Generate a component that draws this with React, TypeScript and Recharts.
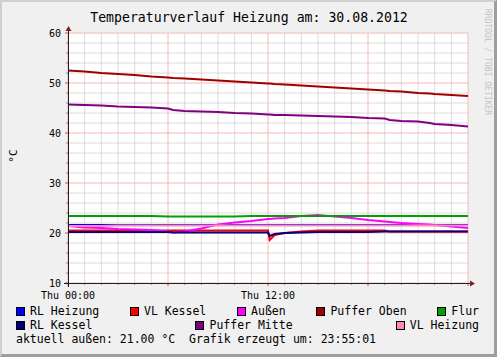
import React from 'react';
import { LineChart, Line, XAxis, YAxis, ReferenceLine } from 'recharts';

// time axis (hours of the day)
const hours = [0, 1, 2, 3, 4, 5, 6, 6.3, 7, 8, 9, 10, 11, 12, 12.1, 12.4, 13, 14, 15, 16, 17, 18, 19, 19.3, 20, 21, 21.7, 22, 23, 24];

const rlHeizung = [21.6, 21.6, 21.6, 21.6, 21.6, 21.6, 21.6, 21.6, 21.6, 21.6, 21.6, 21.6, 21.6, 21.6, 21.6, 21.6, 21.6, 21.6, 21.6, 21.6, 21.6, 21.6, 21.6, 21.6, 21.6, 21.6, 21.6, 21.6, 21.6, 21.6];
const vlKessel = [20.5, 20.5, 20.5, 20.5, 20.5, 20.5, 20.5, 20.5, 20.5, 20.5, 20.5, 20.5, 20.5, 20.5, 18.6, 19.6, 20.0, 20.3, 20.5, 20.5, 20.5, 20.5, 20.5, 20.3, 20.3, 20.3, 20.3, 20.3, 20.3, 20.3];
const aussen = [21.4, 21.1, 21.0, 20.8, 20.7, 20.6, 20.3, 20.1, 20.3, 20.9, 21.7, 22.1, 22.4, 22.8, 22.8, 22.9, 23.0, 23.4, 23.6, 23.3, 23.0, 22.6, 22.3, 22.2, 22.0, 21.8, 21.7, 21.6, 21.3, 21.0];
const pufferOben = [52.5, 52.3, 52.0, 51.8, 51.6, 51.3, 51.1, 51.0, 50.9, 50.7, 50.5, 50.3, 50.1, 49.9, 49.9, 49.8, 49.7, 49.5, 49.3, 49.1, 48.9, 48.7, 48.5, 48.4, 48.3, 48.0, 47.9, 47.8, 47.6, 47.4];
const flur = [23.4, 23.4, 23.4, 23.4, 23.4, 23.4, 23.3, 23.3, 23.3, 23.3, 23.3, 23.3, 23.4, 23.4, 23.4, 23.4, 23.4, 23.4, 23.4, 23.4, 23.4, 23.4, 23.4, 23.4, 23.4, 23.4, 23.4, 23.4, 23.4, 23.4];
const rlKessel = [20.2, 20.2, 20.2, 20.2, 20.2, 20.2, 20.2, 20.1, 20.1, 20.1, 20.1, 20.1, 20.1, 20.1, 19.4, 19.8, 20.0, 20.1, 20.2, 20.2, 20.2, 20.2, 20.3, 20.3, 20.3, 20.3, 20.3, 20.3, 20.3, 20.3];
const pufferMitte = [45.7, 45.6, 45.5, 45.3, 45.2, 45.1, 44.9, 44.6, 44.4, 44.3, 44.2, 44.0, 43.9, 43.7, 43.7, 43.6, 43.6, 43.5, 43.4, 43.3, 43.2, 43.0, 42.9, 42.6, 42.4, 42.3, 42.0, 41.8, 41.6, 41.3];
const vlHeizung = [21.4, 21.4, 21.4, 21.5, 21.5, 21.5, 21.5, 21.5, 21.5, 21.5, 21.5, 21.5, 21.5, 21.5, 21.5, 21.5, 21.5, 21.5, 21.5, 21.5, 21.5, 21.5, 21.5, 21.5, 21.5, 21.5, 21.5, 21.5, 21.5, 21.5];

const seriesNames = ['RL Heizung', 'VL Kessel', 'Außen', 'Puffer Oben', 'Flur', 'RL Kessel', 'Puffer Mitte', 'VL Heizung'];
const seriesKeys = ['rlHeizung', 'vlKessel', 'aussen', 'pufferOben', 'flur', 'rlKessel', 'pufferMitte', 'vlHeizung'];
const seriesColors = ['#0000FF', '#FF0000', '#FF00FF', '#A00000', '#00A000', '#000080', '#800080', '#FF88B8'];
const seriesValues = [rlHeizung, vlKessel, aussen, pufferOben, flur, rlKessel, pufferMitte, vlHeizung];

const minorHourTicks = [0, 1, 2, 3, 4, 5, 6, 7, 8, 9, 10, 11, 12, 13, 14, 15, 16, 17, 18, 19, 20, 21, 22, 23, 24];
const majorHourTicks = [0, 6, 12, 18, 24];
const labelHours = [0, 12];
const labelTexts = ['Thu 00:00', 'Thu 12:00'];
const minorTempTicks = [10, 12, 14, 16, 18, 20, 22, 24, 26, 28, 30, 32, 34, 36, 38, 40, 42, 44, 46, 48, 50, 52, 54, 56, 58, 60];
const majorTempTicks = [10, 20, 30, 40, 50, 60];

const title = 'Temperaturverlauf Heizung am: 30.08.2012';
const unit = '°C';
const footer = 'aktuell außen: 21.00 °C  Grafik erzeugt um: 23:55:01';
const watermark = 'RRDTOOL / TOBI OETIKER';

const data = hours.map((h, i) => {
  const row: Record<string, number> = { h };
  seriesKeys.forEach((k, j) => {
    row[k] = seriesValues[j][i];
  });
  return row;
});

const W = 497;
const H = 357;
const PL = 68;
const PR = 468;
const PT = 33;
const PB = 283;
const MONO = '"DejaVu Sans Mono", monospace';
const MINOR_GRID = '#C4C4C4';
const MAJOR_GRID = '#F2B9B6';

function XTick(props: any) {
  const { x, y, payload } = props;
  const v = payload.value;
  const major = majorHourTicks.includes(v);
  const li = labelHours.indexOf(v);
  return (
    <g>
      <line x1={x} x2={x} y1={y} y2={y + (major ? 3 : 2)} stroke={major ? '#D05048' : '#8F8F8F'} />
      {li >= 0 && (
        <text x={x} y={y + 12} textAnchor="middle" dominantBaseline="central" fontFamily={MONO} fontSize={10} fill="#000">
          {labelTexts[li]}
        </text>
      )}
    </g>
  );
}

function YTick(props: any) {
  const { x, y, payload } = props;
  const v = payload.value;
  const major = majorTempTicks.includes(v);
  return (
    <g>
      <line x1={x - (major ? 3 : 2)} x2={x} y1={y} y2={y} stroke={major ? '#D05048' : '#8F8F8F'} />
      {major && (
        <text x={x - 7} y={y} textAnchor="end" dominantBaseline="central" fontFamily={MONO} fontSize={10} fill="#000">
          {v}
        </text>
      )}
    </g>
  );
}

function LegendItem({ name, color }: { name: string; color: string }) {
  return (
    <div style={{ display: 'flex', alignItems: 'center' }}>
      <div style={{ width: 7, height: 7, background: color, border: '1px solid #000', marginRight: 5 }} />
      <span>{name}</span>
    </div>
  );
}

export default function App() {
  const row1 = [0, 1, 2, 3, 4];
  const row2 = [5, 6, 7];
  return (
    <div style={{ position: 'absolute', left: 0, top: 0, width: W, height: H, background: '#F0F0F0', overflow: 'hidden' }}>
      {/* white canvas behind the plot */}
      <div style={{ position: 'absolute', left: PL, top: PT, width: PR - PL, height: PB - PT, background: '#FFFFFF' }} />
      <div style={{ position: 'absolute', left: 0, top: 0 }}>
        <LineChart width={W} height={H} data={data} margin={{ top: PT, right: W - PR, bottom: H - PB - 20, left: 0 }}>
          {minorHourTicks.filter((t) => !majorHourTicks.includes(t)).map((t) => (
            <ReferenceLine key={'mx' + t} x={t} stroke={MINOR_GRID} strokeOpacity={0.6} strokeWidth={1} />
          ))}
          {minorTempTicks.filter((t) => !majorTempTicks.includes(t)).map((t) => (
            <ReferenceLine key={'my' + t} y={t} stroke={MINOR_GRID} strokeOpacity={0.6} strokeWidth={1} />
          ))}
          {majorHourTicks.map((t) => (
            <ReferenceLine key={'Mx' + t} x={t} stroke={MAJOR_GRID} strokeWidth={1} />
          ))}
          {majorTempTicks.map((t) => (
            <ReferenceLine key={'My' + t} y={t} stroke={MAJOR_GRID} strokeWidth={1} />
          ))}
          <XAxis
            dataKey="h"
            type="number"
            domain={[0, 24]}
            ticks={minorHourTicks}
            interval={0}
            height={20}
            axisLine={false}
            tickLine={false}
            tickSize={0}
            tickMargin={0}
            tick={<XTick />}
          />
          <YAxis
            type="number"
            domain={[10, 60]}
            ticks={minorTempTicks}
            interval={0}
            width={PL}
            axisLine={false}
            tickLine={false}
            tickSize={0}
            tickMargin={0}
            tick={<YTick />}
          />
          {seriesKeys.map((k, i) => (
            <Line
              key={k}
              type="linear"
              dataKey={k}
              name={seriesNames[i]}
              stroke={seriesColors[i]}
              strokeWidth={2}
              dot={false}
              activeDot={false}
              isAnimationActive={false}
            />
          ))}
        </LineChart>
      </div>

      <svg width={W} height={H} style={{ position: 'absolute', left: 0, top: 0, pointerEvents: 'none' }}>
        {/* axes with arrows */}
        <line x1={PL - 4} x2={PR + 2} y1={PB + 0.5} y2={PB + 0.5} stroke="#1F1F1F" />
        <line x1={PL + 0.5} x2={PL + 0.5} y1={PB + 4} y2={PT - 2} stroke="#1F1F1F" />
        <polygon points={`${PR + 2},${PB - 2.5} ${PR + 7},${PB + 0.5} ${PR + 2},${PB + 3.5}`} fill="#7F1F1F" />
        <polygon points={`${PL - 2.5},${PT - 2} ${PL + 0.5},${PT - 7} ${PL + 3.5},${PT - 2}`} fill="#7F1F1F" />
        <text x={249} y={17} textAnchor="middle" dominantBaseline="central" fontFamily={MONO} fontSize={13.2} fill="#000">
          {title}
        </text>
        <text x={13} y={156} textAnchor="middle" dominantBaseline="central" fontFamily={MONO} fontSize={11} fill="#000" transform="rotate(-90 13 156)">
          {unit}
        </text>
        <text x={487} y={62} textAnchor="middle" dominantBaseline="central" fontFamily={MONO} fontSize={8} fill="#C4C4C4" transform="rotate(90 487 62)">
          {watermark}
        </text>
      </svg>

      <div style={{ position: 'absolute', left: 16, top: 304, width: 463, fontFamily: MONO, fontSize: 11.5, lineHeight: '14px', color: '#000' }}>
        <div style={{ display: 'flex', justifyContent: 'space-between' }}>
          {row1.map((i) => <LegendItem key={i} name={seriesNames[i]} color={seriesColors[i]} />)}
        </div>
        <div style={{ display: 'flex', justifyContent: 'space-between' }}>
          {row2.map((i) => <LegendItem key={i} name={seriesNames[i]} color={seriesColors[i]} />)}
        </div>
        <div style={{ whiteSpace: 'pre' }}>{footer}</div>
      </div>

      <div
        style={{
          position: 'absolute', left: 0, top: 0, width: W, height: H, boxSizing: 'border-box', pointerEvents: 'none',
          borderTop: '2px solid #CFCFCF', borderLeft: '2px solid #CFCFCF', borderRight: '3px solid #9E9E9E', borderBottom: '3px solid #9E9E9E',
        }}
      />
    </div>
  );
}
